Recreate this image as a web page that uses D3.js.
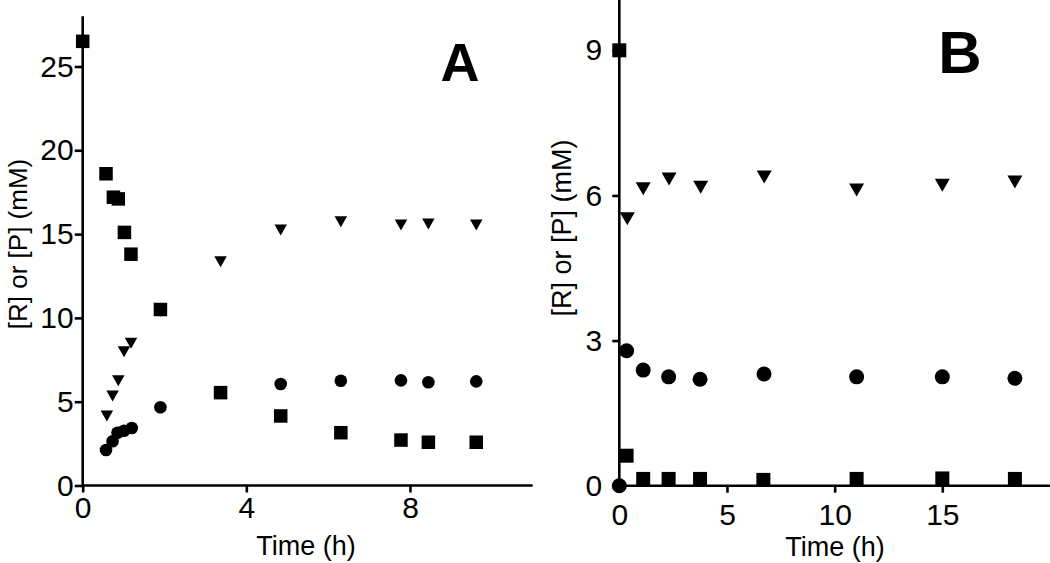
<!DOCTYPE html>
<html>
<head>
<meta charset="utf-8">
<script src="https://cdn.jsdelivr.net/npm/d3@7"></script>
<style>
  body { margin: 0; background: #fff; }
  svg { display: block; font-family: "Liberation Sans", Arial, Helvetica, sans-serif; }
  .axis path, .axis line { stroke: #000; stroke-width: 2.6; }
</style>
</head>
<body>
<svg width="1050" height="563"></svg>
<script>
// panel A: time (h) and concentrations (mM)
const aSqT = [0, 0.57, 0.75, 0.87, 1.02, 1.18, 1.9, 3.37, 4.84, 6.31, 7.78, 8.45, 9.62];
const aSq  = [26.5, 18.6, 17.2, 17.1, 15.1, 13.8, 10.5, 5.54, 4.15, 3.15, 2.71, 2.58, 2.58];
const aCiT = [0.57, 0.73, 0.85, 1.01, 1.2, 1.9, 4.84, 6.31, 7.78, 8.45, 9.62];
const aCi  = [2.12, 2.64, 3.15, 3.27, 3.43, 4.67, 6.06, 6.25, 6.27, 6.16, 6.21];
const aTrT = [0.59, 0.73, 0.87, 1.01, 1.18, 1.9, 3.37, 4.84, 6.31, 7.78, 8.45, 9.62];
const aTr  = [4.15, 5.34, 6.25, 7.98, 8.48, 10.4, 13.35, 15.24, 15.74, 15.54, 15.6, 15.54];
const aXTicks = [0, 4, 8];
const aYTicks = [0, 5, 10, 15, 20, 25];

// panel B
const bSqT = [0, 0.34, 1.11, 2.29, 3.75, 6.69, 11.02, 15.0, 18.37];
const bSq  = [9.0, 0.62, 0.14, 0.14, 0.14, 0.12, 0.14, 0.15, 0.14];
const bCiT = [0, 0.34, 1.11, 2.29, 3.75, 6.72, 11.02, 15.0, 18.37];
const bCi  = [0, 2.79, 2.39, 2.25, 2.2, 2.31, 2.25, 2.25, 2.22];
const bTrT = [0.37, 1.11, 2.31, 3.78, 6.73, 11.02, 15.0, 18.37];
const bTr  = [5.52, 6.14, 6.34, 6.17, 6.38, 6.11, 6.21, 6.28];
const bXTicks = [0, 5, 10, 15];
const bYTicks = [0, 3, 6, 9];

const svg = d3.select("svg");

function zip(ts, vs) { return ts.map((t, i) => ({ t: t, v: vs[i] })); }

function panel(o) {
  const x = d3.scaleLinear().domain(o.xDom).range(o.xRange);
  const y = d3.scaleLinear().domain(o.yDom).range(o.yRange);
  const g = svg.append("g");

  const xa = g.append("g").attr("class", "axis")
    .attr("transform", `translate(0,${o.yRange[0]})`)
    .call(d3.axisBottom(x).tickValues(o.xTicks).tickFormat(d3.format("d"))
      .tickSizeInner(7).tickSizeOuter(0).tickPadding(o.xPad));
  xa.selectAll("text").attr("font-size", o.tickFont).attr("fill", "#000");
  xa.select(".domain").attr("d", `M${o.xRange[0]},0H${o.xRange[1]}`);

  const ya = g.append("g").attr("class", "axis")
    .attr("transform", `translate(${o.xRange[0]},0)`)
    .call(d3.axisLeft(y).tickValues(o.yTicks).tickFormat(d3.format("d"))
      .tickSizeInner(o.yTick).tickSizeOuter(0).tickPadding(o.yPad));
  ya.selectAll("text").attr("font-size", o.tickFont).attr("fill", "#000");
  ya.select(".domain").attr("d", `M0,${o.yRange[0]}V${o.yRange[1]}`);

  g.selectAll("text").attr("font-family", "Liberation Sans, Arial, sans-serif");

  // markers: triangles, circles, squares
  const tw = o.tri[0], th = o.tri[1];
  g.selectAll(".tri").data(zip(o.trT, o.tr)).enter().append("path")
    .attr("d", `M${-tw / 2},${-th / 2}L${tw / 2},${-th / 2}L0,${th / 2}Z`)
    .attr("transform", d => `translate(${x(d.t)},${y(d.v)})`)
    .attr("fill", "#000");
  g.selectAll(".cir").data(zip(o.ciT, o.ci)).enter().append("circle")
    .attr("cx", d => x(d.t)).attr("cy", d => y(d.v)).attr("r", o.cr)
    .attr("fill", "#000");
  g.selectAll(".sq").data(zip(o.sqT, o.sq)).enter().append("rect")
    .attr("x", d => x(d.t) - o.sqS / 2).attr("y", d => y(d.v) - o.sqS / 2)
    .attr("width", o.sqS).attr("height", o.sqS)
    .attr("fill", "#000");

  g.append("text").text("Time (h)")
    .attr("x", o.xTitle[0]).attr("y", o.xTitle[1])
    .attr("text-anchor", "middle").attr("font-size", 27);
  g.append("text").text("[R] or [P] (mM)")
    .attr("transform", `translate(${o.yTitle[0]},${o.yTitle[1]}) rotate(-90)`)
    .attr("text-anchor", "middle").attr("font-size", o.yTitleFont);
  g.append("text").text(o.label)
    .attr("x", o.labelPos[0]).attr("y", o.labelPos[1])
    .attr("text-anchor", "middle").attr("font-weight", "bold")
    .attr("font-size", o.labelFont);
}

panel({
  xDom: [0, 11], xRange: [82.7, 532.7],
  yDom: [0, 28], yRange: [485.5, 16.2],
  xTicks: aXTicks, yTicks: aYTicks,
  xPad: 4, yTick: 8, yPad: 1, tickFont: 30,
  sqT: aSqT, sq: aSq, ciT: aCiT, ci: aCi, trT: aTrT, tr: aTr,
  sqS: 13.5, cr: 6.3, tri: [12.5, 11],
  xTitle: [306, 555], yTitle: [27, 244], yTitleFont: 26,
  label: "A", labelPos: [460, 81], labelFont: 54
});

panel({
  xDom: [0, 20], xRange: [619.3, 1050],
  yDom: [0, 10.04], yRange: [485.7, 0],
  xTicks: bXTicks, yTicks: bYTicks,
  xPad: 11, yTick: 7, yPad: 10, tickFont: 30,
  sqT: bSqT, sq: bSq, ciT: bCiT, ci: bCi, trT: bTrT, tr: bTr,
  sqS: 14, cr: 7.5, tri: [15, 13],
  xTitle: [835, 556], yTitle: [571, 228], yTitleFont: 27,
  label: "B", labelPos: [960, 73], labelFont: 60
});
</script>
</body>
</html>
